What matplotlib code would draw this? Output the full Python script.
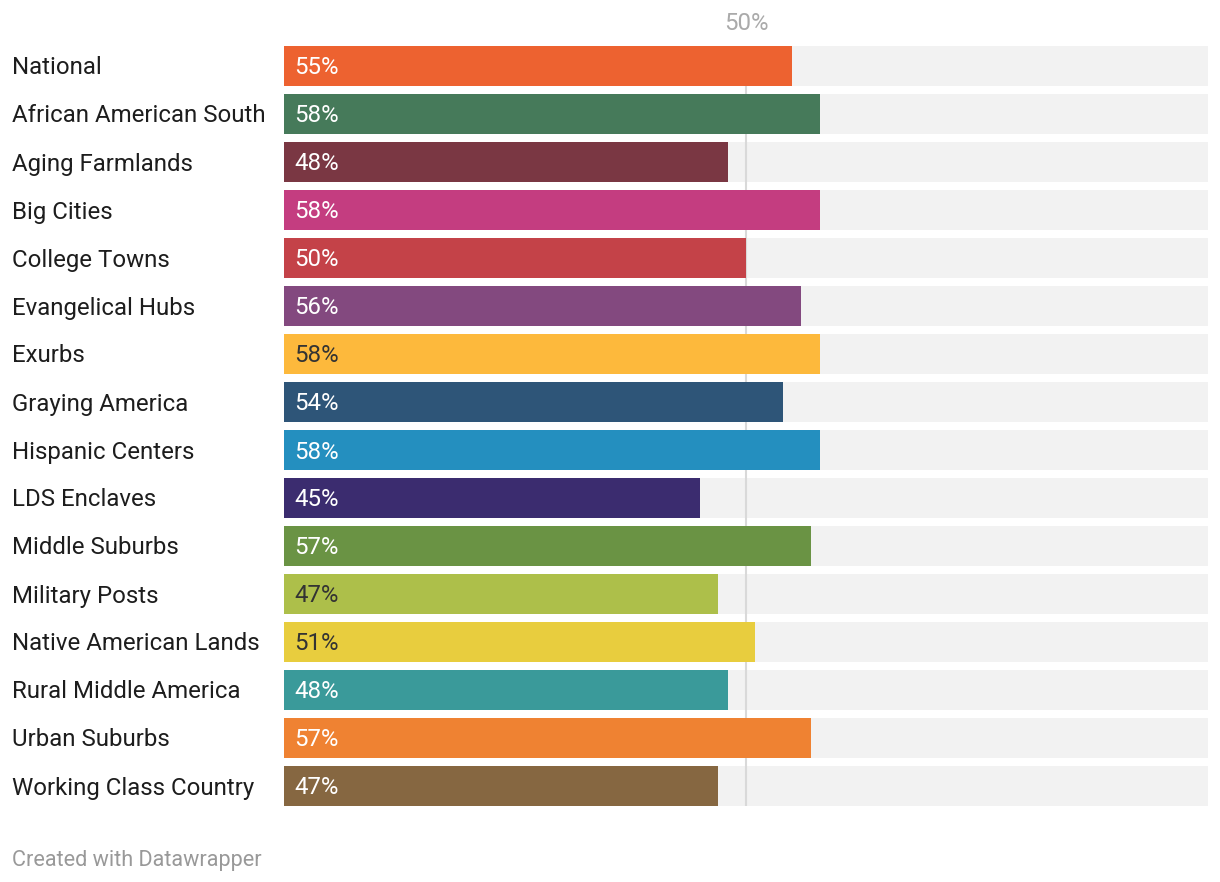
import matplotlib
matplotlib.use("Agg")
import matplotlib.pyplot as plt

categories = ["National", "African American South", "Aging Farmlands", "Big Cities",
              "College Towns", "Evangelical Hubs", "Exurbs", "Graying America",
              "Hispanic Centers", "LDS Enclaves", "Middle Suburbs", "Military Posts",
              "Native American Lands", "Rural Middle America", "Urban Suburbs",
              "Working Class Country"]
values = [55, 58, 48, 58, 50, 56, 58, 54, 58, 45, 57, 47, 51, 48, 57, 47]
colors = ["#ED6230", "#467A5A", "#7A3743", "#C43D80", "#C44248", "#83497F",
          "#FDB93C", "#2E5578", "#248FBF", "#3B2C6F", "#6A9344", "#ADBF4A",
          "#E8CD3E", "#3A9A9A", "#EF8232", "#866741"]
dark_label = ["Exurbs", "Military Posts", "Native American Lands"]
max_value = 100
ref_value = 50
ref_label = "50%"
footer = "Created with Datawrapper"

plt.rcParams['font.family'] = ['Roboto', 'DejaVu Sans']

W, H = 1220, 882
fig = plt.figure(figsize=(W / 100, H / 100), dpi=100)
left, right, top, bottom = 284, 1208, 46, 806
ax = fig.add_axes([left / W, (H - bottom) / H, (right - left) / W, (bottom - top) / H])

n = len(categories)
bar_h = 40 / 48
ax.set_xlim(0, max_value)
ax.set_ylim(n - 1 + bar_h / 2, -bar_h / 2)

ys = list(range(n))
ax.barh(ys, [max_value] * n, height=bar_h, color="#F2F2F2", zorder=1)
ax.axvline(ref_value, color="#D9D9D9", lw=1.5, zorder=2)
ax.barh(ys, values, height=bar_h, color=colors, zorder=3)

FS = 17.3
for y, cat, v in zip(ys, categories, values):
    tc = "#333333" if cat in dark_label else "white"
    base = 1 - (74.5 + 48 * y) / H
    ax.text(1.15, 0, f"{v}%", color=tc, fontsize=FS, va="baseline", ha="left", zorder=4,
            transform=matplotlib.transforms.blended_transform_factory(ax.transData, fig.transFigure),
            position=(1.15, base))
    fig.text(12 / W, base, cat, fontsize=FS, color="#1d1d1d", va="baseline", ha="left")

fig.text((left + (right - left) * ref_value / max_value) / W, 1 - 30 / H, ref_label,
         color="#AAAAAA", fontsize=FS, ha="center", va="baseline")

fig.text(12 / W, 1 - 866 / H, footer, color="#999999", fontsize=15.6, va="baseline", ha="left")

for s in ax.spines.values():
    s.set_visible(False)
ax.set_xticks([])
ax.set_yticks([])

fig.savefig("out.png", dpi=100)
